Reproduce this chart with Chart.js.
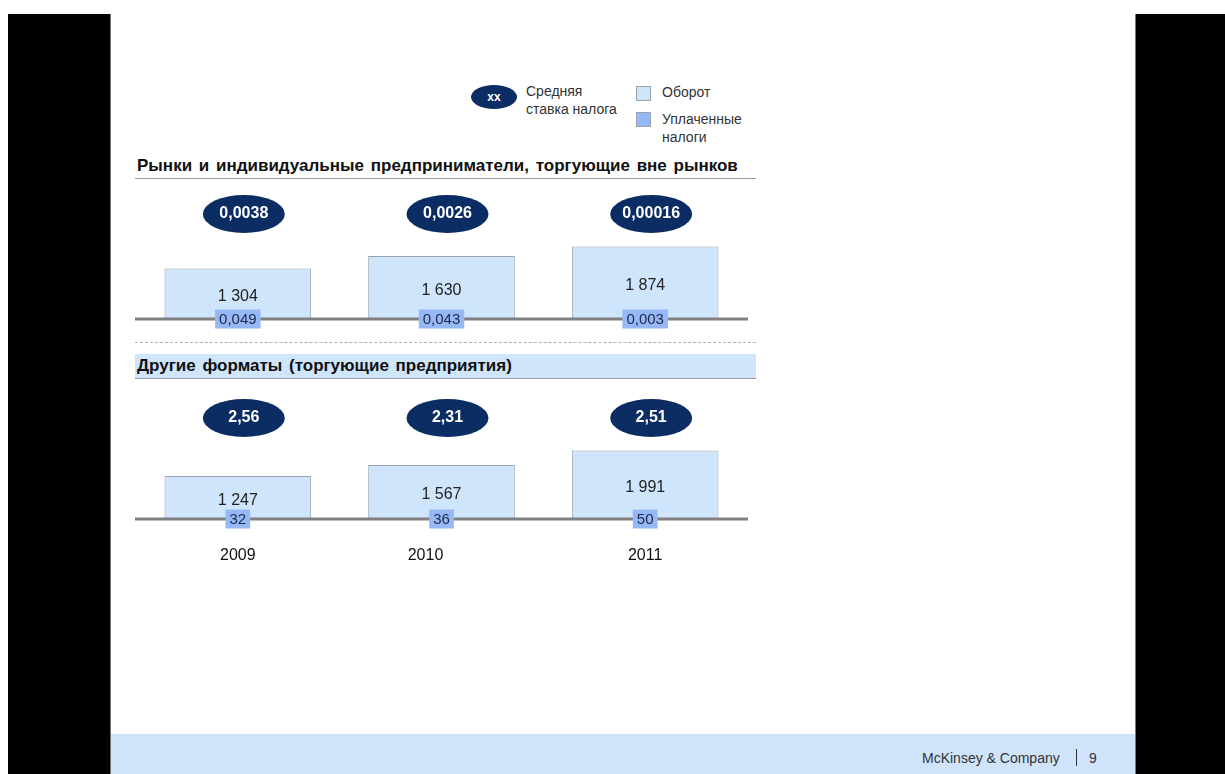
<!DOCTYPE html>
<html>
<head>
<meta charset="utf-8">
<script src="https://cdn.jsdelivr.net/npm/chart.js@4"></script>
<style>
  html, body { margin: 0; padding: 0; background: #fff; width: 1225px; height: 774px; overflow: hidden; font-family: "Liberation Sans", Arial, sans-serif; }
  .side { position: absolute; top: 14px; height: 760px; background: #000; }
  #left { left: 8px; width: 102px; border-right: 1px solid #777; }
  #right { left: 1135px; width: 90px; border-left: 1px solid #777; }
  .abs { position: absolute; white-space: nowrap; color: #222; }
  .title { font-weight: bold; font-size: 17px; color: #111; word-spacing: 2px; }
  .leg { font-size: 14px; color: #333; line-height: 18px; }
  canvas { position: absolute; }
</style>
</head>
<body>
<div id="left" class="side"></div>
<div id="right" class="side"></div>

<!-- legend -->
<div class="abs" style="left:471px;top:85px;width:46px;height:24px;border-radius:50%;background:#0c2c64;color:#fff;font-weight:bold;font-size:12px;text-align:center;line-height:24px;">xx</div>
<div class="abs leg" style="left:526px;top:82px;">Средняя<br>ставка налога</div>
<div class="abs" style="left:636px;top:86px;width:13px;height:13px;background:#cfe5fb;border:1px solid #9aa3ad;"></div>
<div class="abs leg" style="left:662px;top:83px;">Оборот</div>
<div class="abs" style="left:636px;top:112px;width:13px;height:13px;background:#97b8f6;border:1px solid #9aa3ad;"></div>
<div class="abs leg" style="left:662px;top:110px;">Уплаченные<br>налоги</div>

<!-- section headers -->
<div class="abs title" style="left:137px;top:156px;">Рынки и индивидуальные предприниматели, торгующие вне рынков</div>
<div class="abs" style="left:135px;top:178px;width:621px;height:1px;background:#9a9a9a;"></div>
<div class="abs" style="left:135px;top:342px;width:621px;height:0;border-top:1px dashed #b0b0b0;"></div>
<div class="abs" style="left:135px;top:354px;width:621px;height:24px;background:#cfe5fb;"></div>
<div class="abs title" style="left:137px;top:356px;">Другие форматы (торгующие предприятия)</div>
<div class="abs" style="left:135px;top:378px;width:621px;height:1px;background:#9a9a9a;"></div>

<canvas id="marketChart" width="630" height="145" style="left:130px;top:185px;"></canvas>
<canvas id="storeChart" width="630" height="170" style="left:130px;top:390px;"></canvas>

<!-- footer -->
<div class="abs" style="left:111px;top:734px;width:1024px;height:40px;background:#cfe4fb;"></div>
<div class="abs" style="left:922px;top:750px;font-size:14px;color:#333;">McKinsey &amp; Company</div>
<div class="abs" style="left:1076px;top:749px;width:1px;height:17px;background:#333;"></div>
<div class="abs" style="left:1089px;top:750px;font-size:14px;color:#333;">9</div>

<script>
// данные
const years = ["2009", "2010", "2011"];
const marketTurnover = [1304, 1630, 1874];
const marketTaxes = [0.049, 0.043, 0.003];
const marketRates = [0.0038, 0.0026, 0.00016];
const storeTurnover = [1247, 1567, 1991];
const storeTaxes = [32, 36, 50];
const storeRates = [2.56, 2.31, 2.51];

const FONT = '"Liberation Sans", Arial, sans-serif';

function fmtThousands(v) {
    return String(v).replace(/\B(?=(\d{3})+(?!\d))/g, " ");
}
function fmtDecimal(v) {
    return String(v).replace(".", ",");
}

// рисуем подписи, овалы, налоги и базовую линию
const panelPlugin = {
    id: "panel",
    afterDatasetsDraw(chart, args, opts) {
        const ctx = chart.ctx;
        const x = chart.scales.x;
        const y = chart.scales.y;
        const area = chart.chartArea;
        const base = y.getPixelForValue(0);
        const meta = chart.getDatasetMeta(0);

        ctx.save();
        // базовая линия
        ctx.strokeStyle = "#808080";
        ctx.lineWidth = 3;
        ctx.beginPath();
        ctx.moveTo(area.left - 1, base);
        ctx.lineTo(area.right + 1, base);
        ctx.stroke();

        meta.data.forEach((bar, i) => {
            const cx = x.getPixelForValue(i);

            // оборот внутри столбика
            ctx.fillStyle = "#222";
            ctx.font = "16px " + FONT;
            ctx.textAlign = "center";
            ctx.textBaseline = "middle";
            ctx.fillText(fmtThousands(opts.turnover[i]), cx, (bar.y + base) / 2 + 3);

            // налоги
            const tax = fmtDecimal(opts.taxes[i]);
            ctx.font = "15px " + FONT;
            const tw = ctx.measureText(tax).width + 8;
            ctx.fillStyle = "#97b8f6";
            ctx.fillRect(cx - tw / 2, base - 9.5, tw, 19);
            ctx.fillStyle = "#1c2a48";
            ctx.fillText(tax, cx, base + 1);

            // средняя ставка
            const ex = cx + 6;
            const ey = area.top + opts.rateOffset;
            ctx.fillStyle = "#0c2c64";
            ctx.beginPath();
            ctx.ellipse(ex, ey, 41, 19, 0, 0, Math.PI * 2);
            ctx.fill();
            ctx.fillStyle = "#fff";
            ctx.font = "bold 16px " + FONT;
            ctx.fillText(fmtDecimal(opts.rates[i]), ex, ey);

            // годы
            if (opts.showYears) {
                ctx.fillStyle = "#111";
                ctx.font = "16px " + FONT;
                ctx.fillText(years[i], cx + (i === 1 ? -16 : 0), base + 37);
            }
        });
        ctx.restore();
    }
};

function makePanel(id, turnover, taxes, rates, yMax, pad, rateOffset, showYears) {
    const ctx = document.getElementById(id).getContext("2d");
    return new Chart(ctx, {
        type: "bar",
        data: {
            labels: years,
            datasets: [{
                label: "Оборот",
                data: turnover,
                backgroundColor: "#cfe5fb",
                borderColor: "#9aa3ad",
                borderWidth: 1,
                borderSkipped: "bottom",
                barPercentage: 0.72,
                categoryPercentage: 1.0
            }]
        },
        options: {
            responsive: false,
            animation: false,
            events: [],
            layout: { padding: pad },
            plugins: {
                legend: { display: false },
                tooltip: { enabled: false },
                panel: { turnover, taxes, rates, rateOffset, showYears }
            },
            scales: {
                x: { display: false },
                y: { display: false, min: 0, max: yMax }
            }
        },
        plugins: [panelPlugin]
    });
}

makePanel("marketChart", marketTurnover, marketTaxes, marketRates, 3467,
    { left: 6, right: 13, top: 0, bottom: 11 }, 29, false);
makePanel("storeChart", storeTurnover, storeTaxes, storeRates, 3749,
    { left: 6, right: 13, top: 0, bottom: 41 }, 28, true);
</script>
</body>
</html>
